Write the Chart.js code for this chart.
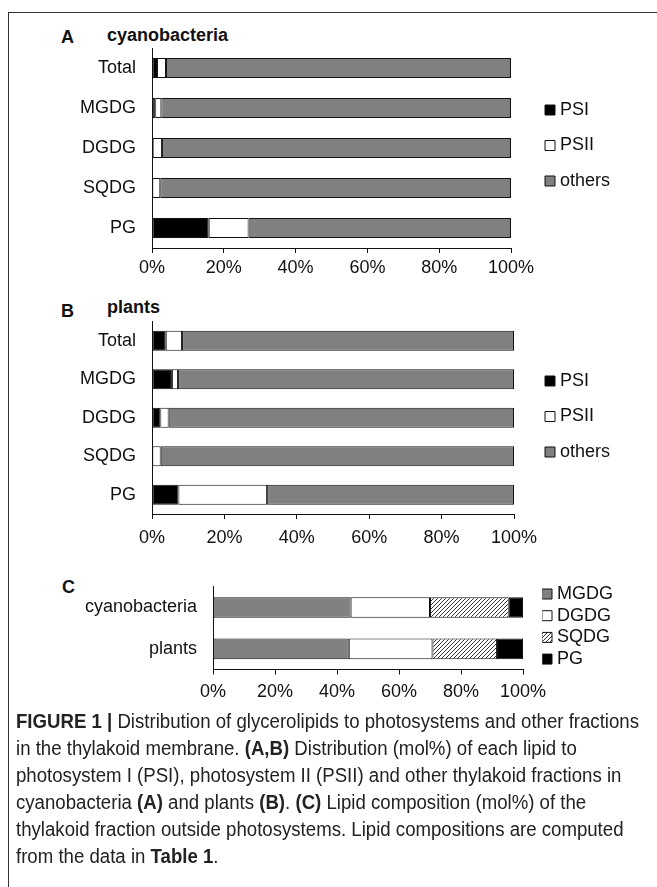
<!DOCTYPE html>
<html><head><meta charset="utf-8">
<script src="https://cdn.jsdelivr.net/npm/chart.js@4.4.1/dist/chart.umd.min.js"></script>
<style>
html,body{margin:0;padding:0;background:#fff;}
body{width:657px;height:887px;position:relative;overflow:hidden;font-family:"Liberation Sans",Arial,sans-serif;color:#111;}
.frame{position:absolute;left:8px;top:12px;width:700px;height:900px;border-left:1px solid #333;border-top:1px solid #333;}
canvas{position:absolute;left:0;}
.lbl{position:absolute;font-weight:bold;font-size:18px;line-height:18px;white-space:nowrap;color:#111;}
.cap{position:absolute;left:16px;top:708px;font-family:"Liberation Sans Narrow","Liberation Sans",sans-serif;font-size:19.5px;line-height:27px;white-space:nowrap;color:#222;transform-origin:0 0;}
.cap div{white-space:nowrap;}
</style></head>
<body>
<div class="frame"></div>
<div class="lbl" style="left:61px;top:28px">A</div>
<div class="lbl" style="left:107px;top:26px">cyanobacteria</div>
<div class="lbl" style="left:61px;top:302px">B</div>
<div class="lbl" style="left:107px;top:298px">plants</div>
<div class="lbl" style="left:62px;top:578px">C</div>
<canvas id="cA" width="657" height="270" style="top:20px;width:657px;height:270px"></canvas>
<canvas id="cB" width="657" height="260" style="top:290px;width:657px;height:260px"></canvas>
<canvas id="cC" width="657" height="150" style="top:560px;width:657px;height:150px"></canvas>
<div class="cap" id="cap">
<div><span id="capL1"><b>FIGURE 1 |</b> Distribution of glycerolipids to photosystems and other fractions</span></div>
<div>in the thylakoid membrane. <b>(A,B)</b> Distribution (mol%) of each lipid to</div>
<div>photosystem I (PSI), photosystem II (PSII) and other thylakoid fractions in</div>
<div>cyanobacteria <b>(A)</b> and plants <b>(B)</b>. <b>(C)</b> Lipid composition (mol%) of the</div>
<div>thylakoid fraction outside photosystems. Lipid compositions are computed</div>
<div>from the data in <b>Table 1</b>.</div>
</div>
<script>
// ---- data ----
const lipidCats = ['Total', 'MGDG', 'DGDG', 'SQDG', 'PG'];
const cyanoPSI    = [1.4, 0.9, 0.2, 0.1, 15.8];
const cyanoPSII   = [2.5, 1.7, 2.6, 2.2, 11.1];
const cyanoOthers = [96.1, 97.4, 97.2, 97.7, 73.1];
const plantPSI    = [3.8, 5.5, 2.3, 0.1, 7.3];
const plantPSII   = [4.5, 1.7, 2.3, 2.3, 24.5];
const plantOthers = [91.7, 92.8, 95.4, 97.6, 68.2];
const orgCats  = ['cyanobacteria', 'plants'];
const compMGDG = [44.4, 43.8];
const compDGDG = [25.6, 27.0];
const compSQDG = [25.4, 20.8];
const compPG   = [4.6, 8.4];
const pctTicks = [0, 20, 40, 60, 80, 100];
const seriesAB = ['PSI', 'PSII', 'others'];
const seriesC  = ['MGDG', 'DGDG', 'SQDG', 'PG'];

Chart.defaults.font.family = '"Liberation Sans", Arial, sans-serif';
Chart.defaults.font.size = 18;
Chart.defaults.color = '#111';
Chart.defaults.animation = false;

function hatch() {
  const c = document.createElement('canvas');
  c.width = 4; c.height = 4;
  const g = c.getContext('2d');
  g.fillStyle = '#fff'; g.fillRect(0, 0, 4, 4);
  g.strokeStyle = '#333'; g.lineWidth = 1;
  g.beginPath();
  g.moveTo(-1, 5); g.lineTo(5, -1);
  g.moveTo(-1, 1); g.lineTo(1, -1);
  g.moveTo(3, 5); g.lineTo(5, 3);
  g.stroke();
  return g.createPattern(c, 'repeat');
}

// place the legend block at a given position (x = legend item origin, y = first text centre)
const legendPlace = {
  id: 'legendPlace',
  afterLayout(chart, args, opts) {
    const l = chart.legend;
    if (!l || opts.x == null) return;
    const pad = l.options.labels.padding;
    const fs = 18;
    const w = l.width, h = l.height;
    l.left = opts.x - pad; l.right = l.left + w;
    l.top = opts.y - fs / 2 - pad; l.bottom = l.top + h;
  }
};

function textW(t) {
  const c = document.createElement('canvas').getContext('2d');
  c.font = '18px "Liberation Sans", Arial, sans-serif';
  return c.measureText(t).width;
}

function makeChart(id, cats, sets, L) {
  const maxW = Math.max(...sets.map(s => textW(s.label)));
  const legendW = L.legPad + 2 + 9 + maxW + 10;
  const padRight = 657 - L.right - legendW;
  return new Chart(document.getElementById(id), {
    type: 'bar',
    data: {
      labels: cats,
      datasets: sets.map(s => ({
        label: s.label, data: s.data, backgroundColor: s.color,
        borderColor: '#111', borderWidth: 1, borderSkipped: false,
        categoryPercentage: L.catPct, barPercentage: 1
      }))
    },
    options: {
      indexAxis: 'y',
      responsive: false,
      layout: { padding: { top: L.top, left: 0, right: padRight, bottom: 0 } },
      plugins: {
        legend: {
          display: true, position: 'right', align: 'start',
          labels: { usePointStyle: true, pointStyle: 'rect', boxWidth: 2, boxHeight: 10,
                    padding: L.legPad, color: '#111', font: { size: 18 } }
        },
        legendPlace: { x: L.legX, y: L.legY },
        tooltip: { enabled: false }
      },
      scales: {
        x: {
          type: 'linear', stacked: true, min: 0, max: 100,
          afterBuildTicks: s => { s.ticks = pctTicks.map(v => ({ value: v })); },
          afterFit: s => { s.height = L.xH; },
          ticks: { callback: v => v + '%', padding: L.xPad, color: '#111', maxRotation: 0 },
          grid: { display: true, drawOnChartArea: false, drawTicks: true, tickLength: 5, color: '#111', lineWidth: 1 },
          border: { display: true, color: '#111', width: 1 }
        },
        y: {
          stacked: true,
          afterFit: s => { s.width = L.left; },
          ticks: { padding: 16, color: '#111' },
          grid: { display: false, drawTicks: false },
          border: { display: true, color: '#111', width: 1 }
        }
      }
    },
    plugins: [legendPlace]
  });
}

const gray = '#808080';
makeChart('cA', lipidCats, [
  { label: seriesAB[0], data: cyanoPSI, color: '#000' },
  { label: seriesAB[1], data: cyanoPSII, color: '#fff' },
  { label: seriesAB[2], data: cyanoOthers, color: gray }
], { top: 28, left: 152, right: 511, xH: 42, xPad: 4, catPct: 0.5, legPad: 17.5, legX: 549, legY: 90 });

makeChart('cB', lipidCats, [
  { label: seriesAB[0], data: plantPSI, color: '#000' },
  { label: seriesAB[1], data: plantPSII, color: '#fff' },
  { label: seriesAB[2], data: plantOthers, color: gray }
], { top: 31.5, left: 152, right: 514, xH: 36, xPad: 8, catPct: 0.52, legPad: 17.5, legX: 549, legY: 91 });

makeChart('cC', orgCats, [
  { label: seriesC[0], data: compMGDG, color: gray },
  { label: seriesC[1], data: compDGDG, color: '#fff' },
  { label: seriesC[2], data: compSQDG, color: hatch() },
  { label: seriesC[3], data: compPG, color: '#000' }
], { top: 17.5, left: 213, right: 523, xH: 40.5, xPad: 7, catPct: 0.5, legPad: 3.7, legX: 546, legY: 34 });

// fit caption first line width to the figure (horizontal squeeze like the condensed original)
(function () {
  const l1 = document.getElementById('capL1');
  const cap = document.getElementById('cap');
  const sw = l1.getBoundingClientRect().width;
  const s = 623 / sw;
  cap.style.transform = 'scaleX(' + s.toFixed(4) + ')';
})();
</script>
</body></html>
